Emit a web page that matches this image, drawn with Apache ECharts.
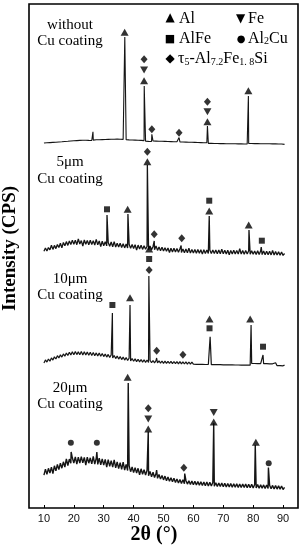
<!DOCTYPE html>
<html><head><meta charset="utf-8">
<script src="https://cdn.jsdelivr.net/npm/echarts@6/dist/echarts.min.js"></script>
<style>html,body{margin:0;padding:0;background:#fff}#c{width:304px;height:550px}</style>
</head><body><div id="c"></div>
<script>
// 2θ sampling grid (degrees)
const twoTheta = [
10,10.5,11,11.5,12,12.5,13,13.5,14,14.5,15,15.5,16,16.5,17,17.5,18,18.5,19,19.5,
20,20.5,21,21.5,22,22.5,23,23.5,24,24.5,25,25.5,26,26.5,27,27.5,28,28.5,29,29.5,
30,30.5,31,31.5,32,32.5,33,33.5,34,34.5,35,35.5,36,36.5,37,37.5,38,38.5,39,39.5,
40,40.5,41,41.5,42,42.5,43,43.5,44,44.5,45,45.5,46,46.5,47,47.5,48,48.5,49,49.5,
50,50.5,51,51.5,52,52.5,53,53.5,54,54.5,55,55.5,56,56.5,57,57.5,58,58.5,59,59.5,
60,60.5,61,61.5,62,62.5,63,63.5,64,64.5,65,65.5,66,66.5,67,67.5,68,68.5,69,69.5,
70,70.5,71,71.5,72,72.5,73,73.5,74,74.5,75,75.5,76,76.5,77,77.5,78,78.5,79,79.5,
80,80.5,81,81.5,82,82.5,83,83.5,84,84.5,85,85.5,86,86.5,87,87.5,88,88.5,89,89.5,
90,90.5];
const xTicks = [10,20,30,40,50,60,70,80,90];

// Baselines (intensity, stacked with offsets as in the figure)
const baseNoCu = [
365.0,365.6,365.2,365.9,365.4,366.0,365.6,366.3,365.8,366.5,
366.0,366.7,366.2,366.9,366.5,367.1,366.7,367.4,367.0,367.6,
367.2,367.9,367.4,368.1,367.6,368.2,367.7,368.3,367.8,368.2,
367.6,368.1,367.5,367.9,367.6,368.2,367.7,368.3,367.8,368.4,
367.9,368.5,368.0,368.6,368.1,368.7,368.2,368.8,368.3,368.9,
368.4,368.8,368.2,368.6,368.0,368.3,367.6,368.1,367.5,368.0,
367.4,367.9,367.3,367.8,367.1,367.6,367.0,367.4,366.8,367.3,
366.6,367.1,366.5,367.0,366.4,366.9,366.3,366.8,366.2,366.7,
366.0,366.6,365.9,366.5,365.8,366.4,365.7,366.3,365.6,366.2,
365.5,366.1,365.4,366.0,365.3,365.9,365.2,365.8,365.1,365.7,
365.0,365.6,364.9,365.5,364.8,365.4,364.8,365.3,364.7,365.2,
364.6,365.2,364.6,365.1,364.5,365.1,364.5,365.0,364.4,365.0,
364.4,364.9,364.3,364.9,364.3,364.8,364.2,364.8,364.2,364.7,
364.1,364.7,364.1,364.6,364.0,364.6,364.0,364.5,363.9,364.5,
363.9,364.4,363.8,364.4,363.8,364.3,363.7,364.3,363.7,364.2,
363.6,364.2,363.6,364.1,363.5,364.1,363.5,364.0,363.4,364.0,
363.4,363.6];
const base5um = [
256.8,260.0,257.0,260.4,258.1,262.8,258.6,262.6,259.4,263.4,
260.5,264.7,260.2,265.6,262.2,266.4,262.6,267.1,263.4,267.9,
263.8,267.7,263.3,269.0,264.0,267.4,262.0,268.0,263.7,267.6,
263.2,267.8,263.5,267.3,263.0,268.6,263.2,267.0,261.5,266.7,
262.3,266.2,262.1,265.4,261.7,266.0,261.2,266.4,261.0,264.8,
260.9,264.7,260.5,264.3,260.1,263.9,260.0,263.7,259.7,263.4,
259.5,263.2,257.9,262.9,259.1,262.7,258.6,262.3,258.8,261.8,
258.3,261.9,258.2,261.5,258.3,262.1,257.6,261.0,257.2,260.7,
256.9,260.3,256.7,260.0,255.5,259.8,256.1,259.7,255.9,259.4,
255.7,259.2,255.6,259.0,255.3,258.9,255.2,259.7,255.0,258.6,
254.9,258.5,254.8,258.4,254.7,258.3,253.9,258.2,254.6,258.1,
254.5,258.0,254.4,258.1,254.5,257.9,254.3,258.0,254.2,258.7,
254.3,257.7,254.1,257.8,253.3,257.6,254.0,257.7,254.1,257.5,
253.9,259.2,254.0,257.4,253.8,257.5,253.9,257.3,253.7,257.2,
253.8,257.1,253.6,257.2,253.5,257.0,253.4,256.9,253.3,256.8,
253.2,256.7,253.1,257.5,253.0,256.5,252.9,256.3,252.7,256.1,
252.6,254.5];
const base10um = [
145.0,148.1,145.9,149.0,146.8,150.1,147.9,151.2,149.0,152.3,
150.1,153.2,150.9,154.1,151.8,155.0,152.5,155.7,153.1,156.3,
153.2,156.4,153.4,156.1,153.3,156.4,153.0,156.2,153.1,155.9,
152.7,155.8,152.6,155.5,152.3,155.1,152.1,154.9,151.7,154.5,
151.4,154.0,150.9,153.6,150.5,153.1,150.0,152.5,149.4,152.0,
148.9,151.4,148.4,150.9,147.9,150.4,147.5,149.9,147.0,149.5,
146.7,149.1,146.4,148.8,146.1,148.5,145.9,148.2,145.6,148.0,
145.5,147.7,145.3,147.5,145.2,147.3,145.0,147.1,144.9,147.0,
144.7,146.8,144.6,146.7,144.5,146.6,144.4,146.5,144.3,146.4,
144.2,146.3,144.1,146.2,144.0,146.1,143.9,146.0,143.8,145.9,
143.8,145.7,143.7,145.6,143.6,145.5,143.6,145.4,143.5,145.3,
143.5,145.2,143.4,145.2,143.4,145.1,143.3,145.1,143.3,145.0,
143.2,145.0,143.2,144.9,143.1,144.9,143.1,144.8,143.0,144.8,
143.0,144.7,142.9,144.7,142.9,144.6,142.8,144.6,142.8,144.5,
142.7,144.5,142.7,144.4,142.6,144.4,142.6,144.3,142.5,144.3,
142.5,144.2,142.4,144.2,142.4,145.3,142.3,144.1,142.3,144.1,
142.2,142.9];
const base20um = [
32.8,38.9,33.6,39.7,34.9,40.8,34.5,42.2,37.1,43.5,
38.4,44.9,39.8,46.2,41.0,49.0,42.5,48.9,44.8,50.2,
45.0,51.1,43.9,50.8,44.9,51.3,45.2,50.6,43.0,50.9,
44.8,50.2,44.1,51.6,43.9,49.8,43.6,49.9,43.2,49.1,
42.8,48.7,41.0,48.3,41.6,47.4,40.8,48.2,40.2,46.0,
39.4,45.3,38.7,45.8,38.0,43.6,37.5,42.4,36.3,41.0,
35.4,40.4,35.0,39.7,33.2,39.2,33.8,38.3,33.0,37.7,
32.2,36.6,31.1,35.7,30.5,34.4,29.7,33.5,28.9,32.6,
28.1,31.9,27.3,31.0,26.8,30.3,26.2,29.7,25.6,29.1,
25.1,28.6,24.6,28.2,24.3,27.6,23.9,27.3,23.5,27.0,
23.2,26.8,23.0,26.5,22.8,26.3,22.5,26.1,22.3,25.9,
22.1,25.7,22.0,25.5,21.8,25.3,21.6,25.1,21.4,24.9,
21.2,24.7,21.1,24.6,20.9,24.5,20.8,24.3,20.7,24.2,
20.6,24.1,20.5,24.0,20.4,23.9,20.3,23.8,20.2,23.7,
20.1,23.6,20.0,23.4,19.8,23.3,19.7,23.1,19.5,23.0,
19.4,22.8,19.2,22.6,19.1,22.4,18.9,22.2,18.7,22.0,
18.5,20.6];

// Diffraction peaks [2θ, intensity]
const peaksNoCu = [[26.4,376.3],[37.05,471],[43.55,422],[46.1,373.7],[55.2,370.5],[64.7,382],[78.4,412]];
const peaks5um  = [[31.1,293],[38.1,294],[44.6,343],[46.9,267],[55.9,262.5],[65.3,292],[78.6,278],[82.7,261]];
const peaks10um = [[32.9,195],[38.8,203],[45.1,232],[47.7,150],[56.6,147.8],[65.6,171.3],[79.3,183],[83.3,153]];
const peaks20um = [[19.1,56],[27.7,56],[38.2,125],[44.9,76.3],[47.7,38],[57.1,34.5],[66.8,84.7],[80.7,63],[85.1,40.5]];

// Phase markers [2θ, intensity]
const markAl = [[37.0,475.7],[43.5,427.3],[64.7,386.3],[78.4,417.3],
  [44.6,346.3],[38.0,298.7],[65.3,297],[78.5,283],
  [45.2,259],[38.8,210.3],[65.4,189],[79.0,189],
  [38.0,130.7],[44.9,79],[66.8,86],[80.9,65.7]];
const markFe = [[43.5,438],[64.7,396.3],[44.9,89],[66.8,95.5]];
const markAlFe = [[31.1,298.7],[65.3,307.3],[82.9,267.3],
  [32.9,203],[45.2,249],[65.4,179.7],[83.3,161.3]];
const markAl2Cu = [[19.0,65.3],[27.7,65.3],[85.2,44.7]];
const markTau5 = [[43.5,448.7],[46.1,378.7],[55.2,375.3],[64.7,406.3],
  [44.6,356.3],[46.9,273.7],[56.1,269.7],
  [45.2,238],[47.7,157.3],[56.5,153.3],
  [44.9,99.7],[56.8,40.3]];

const sampleLine1 = ['without','5μm','10μm','20μm'];
const sampleLine2 = 'Cu coating';

function buildLine(base, peaks){
  const pts = twoTheta.map((x,i)=>[x, base[i]]);
  peaks.forEach(p=>pts.push(p));
  pts.sort((a,b)=>a[0]-b[0]);
  return pts;
}

const serif = 'Liberation Serif';
const lineColor = '#151515';
const traces = [buildLine(baseNoCu,peaksNoCu),buildLine(base5um,peaks5um),buildLine(base10um,peaks10um),buildLine(base20um,peaks20um)];
const widths = [1.1,1.3,1.2,1.4];

const lineSeries = traces.map((d,i)=>({
  type:'line', name:'trace'+i, data:d, symbol:'none', silent:true,
  lineStyle:{color:lineColor,width:widths[i]}, z:2
}));
function sc(data, symbol, size, rot){
  return {type:'scatter', data, symbol, symbolSize:size, symbolRotate:rot||0,
    itemStyle:{color:'#000'}, silent:true, z:3};
}
const markerSeries = [
  sc(markAl,'triangle',[8,7]),
  sc(markFe,'triangle',[8,7],180),
  sc(markAlFe,'rect',6),
  sc(markAl2Cu,'circle',6),
  sc(markTau5,'diamond',[7,8])
];

const labelY = [[25.5,41.5],[162.2,178.8],[278.8,294.8],[388.5,403.8]];
const graphics = [];
sampleLine1.forEach((t,i)=>{
  graphics.push({type:'text',x:70,y:labelY[i][0],style:{text:t,font:'15px '+serif,fill:'#000',align:'center',verticalAlign:'middle'}});
  graphics.push({type:'text',x:70,y:labelY[i][1],style:{text:sampleLine2,font:'15px '+serif,fill:'#000',align:'center',verticalAlign:'middle'}});
});
const rich = {
  m:{fontFamily:serif,fontSize:16,lineHeight:16,fill:'#000'},
  s:{fontFamily:serif,fontSize:10,lineHeight:8,verticalAlign:'bottom',fill:'#000'}
};
function legendText(x,y,str){
  graphics.push({type:'text',x,y,style:{text:str,rich,align:'left',verticalAlign:'middle'}});
}
function legendSym(x,y,ch,size){
  graphics.push({type:'text',x,y,style:{text:ch,font:size+'px DejaVu Sans',fill:'#000',align:'center',verticalAlign:'middle'}});
}
legendSym(170,18,'▲',12); legendText(179,18.3,'{m|Al}');
legendSym(240.7,18.5,'▼',12); legendText(248,18.3,'{m|Fe}');
legendSym(170,39,'■',11); legendText(179,38.5,'{m|AlFe}');
legendSym(241,39,'●',10); legendText(248,38.5,'{m|Al}{s|2}{m|Cu}');
legendSym(170,59.3,'◆',12); legendText(178,59,'{m|τ}{s|5}{m|-Al}{s|7.2}{m|Fe}{s|1. 8}{m|Si}');

graphics.push({type:'text',x:10,y:248.5,rotation:Math.PI/2,style:{text:'Intensity (CPS)',font:'bold 19px '+serif,fill:'#000',align:'center',verticalAlign:'middle'}});
graphics.push({type:'text',x:154,y:535,style:{text:'2θ (°)',font:'bold 20px '+serif,fill:'#000',align:'center',verticalAlign:'middle'}});

const chart = echarts.init(document.getElementById('c'),null,{renderer:'canvas'});
chart.setOption({
  animation:false,
  backgroundColor:'#fff',
  grid:{left:29,right:6,top:4,bottom:42,show:true,borderColor:'#000',borderWidth:1.6,backgroundColor:'transparent'},
  xAxis:{type:'value',min:5,max:95,
    axisLine:{show:false},
    splitLine:{show:false},
    axisTick:{show:true,inside:true,length:3,customValues:xTicks,lineStyle:{color:'#000'}},
    axisLabel:{customValues:xTicks,color:'#111',fontFamily:'Liberation Sans',fontSize:11,margin:5}
  },
  yAxis:{type:'value',min:0,max:504,show:false},
  series:[...lineSeries,...markerSeries],
  graphic:graphics
});
</script></body></html>
